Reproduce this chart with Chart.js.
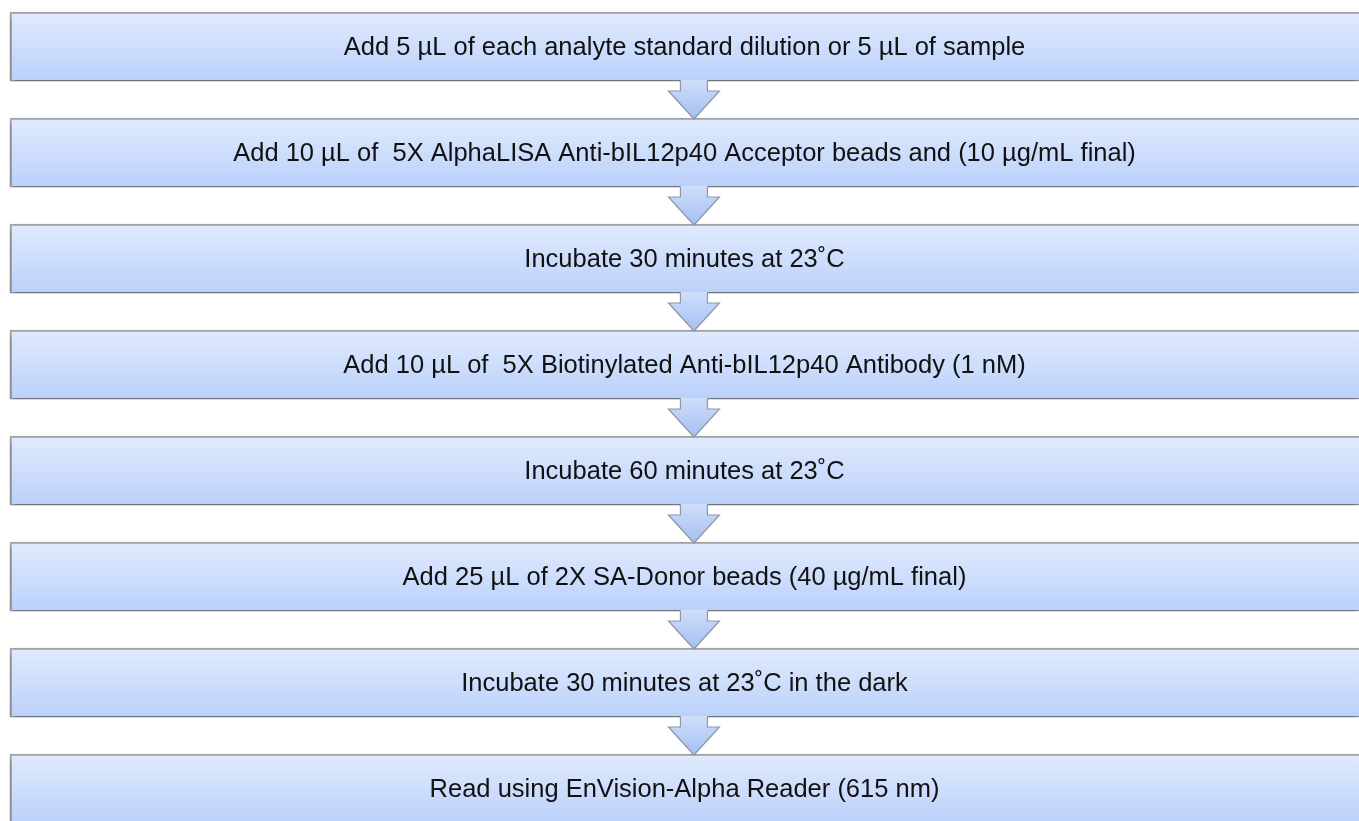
<!DOCTYPE html>
<html lang="en">

<head>
    <meta charset="UTF-8">
    <meta name="viewport" content="width=device-width, initial-scale=1.0">
    <title>AlphaLISA assay steps</title>
    <style>
        html, body { margin: 0; padding: 0; background: #ffffff; overflow: hidden; }
        #wrap { position: relative; width: 1359px; height: 821px; }
    </style>
</head>

<body>
    <div id="wrap">
        <canvas id="myChart"></canvas>
    </div>

    <script src="https://cdn.jsdelivr.net/npm/chart.js"></script>
    <script>
        // step texts, top to bottom
        const v_steps = [
            'Add 5 \u00b5L of each analyte standard dilution or 5 \u00b5L of sample',
            'Add 10 \u00b5L of  5X AlphaLISA Anti-bIL12p40 Acceptor beads and (10 \u00b5g/mL final)',
            'Incubate 30 minutes at 23\u02daC',
            'Add 10 \u00b5L of  5X Biotinylated Anti-bIL12p40 Antibody (1 nM)',
            'Incubate 60 minutes at 23\u02daC',
            'Add 25 \u00b5L of 2X SA-Donor beads (40 \u00b5g/mL final)',
            'Incubate 30 minutes at 23\u02daC in the dark',
            'Read using EnVision-Alpha Reader (615 nm)'
        ];
        // position of each step in the flow
        const v_order = [0, 1, 2, 3, 4, 5, 6, 7];
        // every box spans the full width
        const v_span = [1, 1, 1, 1, 1, 1, 1, 1];

        let v_points = [];
        for (let i = 0; i < v_steps.length; i++) {
            v_points.push({ x: v_span[i], y: v_order[i] });
        }

        // soft shadow under the boxes
        const shadowPlugin = {
            id: 'boxShadow',
            beforeDatasetsDraw(chart) {
                const ctx = chart.ctx;
                ctx.save();
                ctx.shadowColor = 'rgba(0,0,0,0.55)';
                ctx.shadowBlur = 5;
                ctx.shadowOffsetX = 0;
                ctx.shadowOffsetY = 4;
            },
            afterDatasetsDraw(chart) {
                chart.ctx.restore();
            }
        };

        // down arrows between boxes + step text
        const flowPlugin = {
            id: 'flow',
            afterDraw(chart) {
                const ctx = chart.ctx;
                const bars = chart.getDatasetMeta(0).data;
                const xArrow = chart.scales.x.getPixelForValue(0.507);
                const xText = chart.scales.x.getPixelForValue(0.5);

                for (let i = 0; i < bars.length - 1; i++) {
                    const y0 = bars[i].y + bars[i].height / 2 - 1;
                    const y2 = bars[i + 1].y - bars[i + 1].height / 2 + 1;
                    const y1 = y0 + 11;
                    const sw = 13.5, hw = 25.5;

                    ctx.save();
                    ctx.beginPath();
                    ctx.moveTo(xArrow - sw, y0);
                    ctx.lineTo(xArrow + sw, y0);
                    ctx.lineTo(xArrow + sw, y1);
                    ctx.lineTo(xArrow + hw, y1);
                    ctx.lineTo(xArrow, y2);
                    ctx.lineTo(xArrow - hw, y1);
                    ctx.lineTo(xArrow - sw, y1);
                    ctx.closePath();
                    let g = ctx.createLinearGradient(0, y0, 0, y2);
                    g.addColorStop(0, '#cfdffc');
                    g.addColorStop(1, '#a5bff2');
                    ctx.fillStyle = g;
                    ctx.fill();

                    // outline without the top edge
                    ctx.beginPath();
                    ctx.moveTo(xArrow + sw, y0 + 1);
                    ctx.lineTo(xArrow + sw, y1);
                    ctx.lineTo(xArrow + hw, y1);
                    ctx.lineTo(xArrow, y2);
                    ctx.lineTo(xArrow - hw, y1);
                    ctx.lineTo(xArrow - sw, y1);
                    ctx.lineTo(xArrow - sw, y0 + 1);
                    ctx.strokeStyle = '#8e96a3';
                    ctx.lineWidth = 1.2;
                    ctx.stroke();
                    ctx.restore();
                }

                ctx.save();
                ctx.font = '25.5px "Liberation Sans", Arial, sans-serif';
                ctx.fillStyle = '#111111';
                ctx.textAlign = 'center';
                ctx.textBaseline = 'middle';
                for (let i = 0; i < bars.length; i++) {
                    ctx.fillText(v_steps[i], xText, bars[i].y + 1);
                }
                ctx.restore();
            }
        };

        let ctx = document.getElementById('myChart');
        new Chart(ctx, {
            type: 'bar',
            data: {
                datasets: [{
                    data: v_points,
                    barThickness: 69,
                    backgroundColor: function (c) {
                        const chart = c.chart;
                        if (!chart.chartArea || c.dataIndex === undefined) return '#cfdffc';
                        const yc = chart.scales.y.getPixelForValue(v_order[c.dataIndex]);
                        let g = chart.ctx.createLinearGradient(0, yc - 34, 0, yc + 34);
                        g.addColorStop(0, '#e0eafd');
                        g.addColorStop(1, '#bbd1fb');
                        return g;
                    },
                    borderColor: '#a2a2a2',
                    borderWidth: { top: 2, left: 2, bottom: 1, right: 0 },
                    borderSkipped: false
                }]
            },
            options: {
                indexAxis: 'y',
                responsive: true,
                maintainAspectRatio: false,
                animation: false,
                layout: { padding: 0 },
                scales: {
                    x: { type: 'linear', display: false, min: -10 / 1349, max: 1 },
                    y: {
                        type: 'linear', display: false, reverse: true, offset: false,
                        min: -46.5 / 106, max: -46.5 / 106 + 821 / 106
                    }
                },
                plugins: {
                    legend: { display: false },
                    tooltip: { enabled: false }
                }
            },
            plugins: [shadowPlugin, flowPlugin]
        });
    </script>
</body>

</html>
